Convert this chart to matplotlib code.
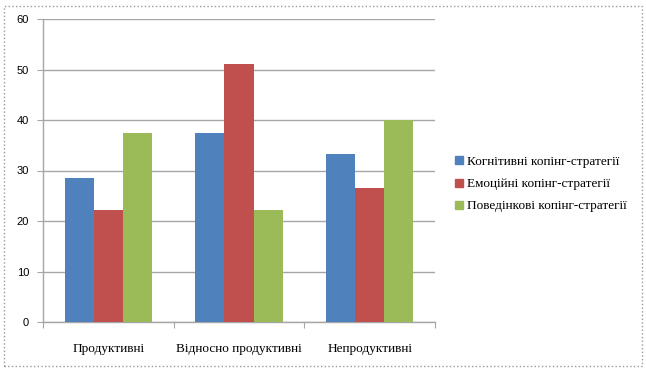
import matplotlib
matplotlib.use('Agg')
import matplotlib.pyplot as plt
import numpy as np
from matplotlib.patches import Rectangle
from matplotlib.lines import Line2D

# Дані
categories = ['Продуктивні', 'Відносно продуктивні', 'Непродуктивні']
series_names = ['Когнітивні копінг-стратегії', 'Емоційні копінг-стратегії', 'Поведінкові копінг-стратегії']
cognitive = [28.6, 37.5, 33.3]
emotional = [22.2, 51.0, 26.5]
behavioral = [37.5, 22.2, 40.0]
colors = ['#4f81bd', '#c0504d', '#9bbb59']
y_ticks = [0, 10, 20, 30, 40, 50, 60]

fig = plt.figure(figsize=(6.46, 3.70), dpi=100)
ax = fig.add_axes([43/646, 1 - 322/370, (435-43)/646, (322-19)/370])

x = np.arange(len(categories))
w = 1 / 4.5
for i, (vals, c) in enumerate(zip([cognitive, emotional, behavioral], colors)):
    ax.bar(x + (i - 1) * w, vals, width=w, color=c, zorder=3, linewidth=0)

ax.set_xlim(-0.5, 2.5)
ax.set_ylim(0, 60)
ax.set_yticks(y_ticks)
ax.set_yticklabels([str(v) for v in y_ticks], fontsize=8, family='Liberation Sans')
ax.grid(axis='y', color='#a6a6a6', linewidth=1, zorder=0)

# мітки на межах категорій, підписи по центру
ax.set_xticks([-0.5, 0.5, 1.5, 2.5])
ax.set_xticklabels([])
ax.tick_params(axis='x', length=4, color='#a6a6a6', direction='out')
for xi, lab in zip(x, categories):
    ax.text(xi, -4.2, lab, ha='center', va='top', fontsize=9.5, family='Liberation Serif')
ax.tick_params(axis='y', length=4, color='#a6a6a6', pad=6)

for s in ['top', 'right']:
    ax.spines[s].set_visible(False)
for s in ['left', 'bottom']:
    ax.spines[s].set_color('#a6a6a6')
    ax.spines[s].set_linewidth(1)

handles = [Line2D([0], [0], marker='s', linestyle='none', markersize=5.5,
                  markerfacecolor=c, markeredgecolor=c) for c in colors]
fig.legend(handles, series_names, loc='center left', bbox_to_anchor=(447/646, 1 - 184/370),
           frameon=False, prop={'family': 'Liberation Serif', 'size': 9.5},
           handletextpad=0.1, labelspacing=0.75, borderaxespad=0, handlelength=1)

# пунктирна рамка
fig.patches.append(Rectangle((4/646, 4/370), 638/646, 360/370, transform=fig.transFigure,
                             fill=False, edgecolor='#999999', linestyle=':', linewidth=1))

fig.savefig('out.png', dpi=100)
